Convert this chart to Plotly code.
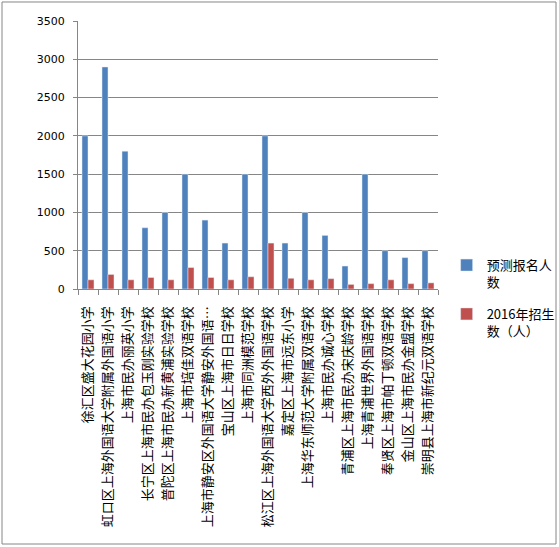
import plotly.graph_objects as go

# school names (x categories)
schools = [
    '徐汇区盛大花园小学',
    '虹口区上海外国语大学附属外国语小学',
    '上海市民办丽英小学',
    '长宁区上海市民办包玉刚实验学校',
    '普陀区上海市民办新黄浦实验学校',
    '上海市培佳双语学校',
    '上海市静安区外国语大学静安外国语…',
    '宝山区上海市日日学校',
    '上海市同洲模范学校',
    '松江区上海外国语大学西外外国语学校',
    '嘉定区上海市远东小学',
    '上海华东师范大学附属双语学校',
    '上海市民办诚心学校',
    '青浦区上海市民办宋庆龄学校',
    '上海青浦世界外国语学校',
    '奉贤区上海市帕丁顿双语学校',
    '金山区上海市民办金盟学校',
    '崇明县上海市新纪元双语学校',
]

# predicted applicants
applicants = [2000, 2900, 1800, 800, 1000, 1500, 900, 600, 1500,
              2000, 600, 1000, 700, 300, 1500, 500, 410, 500]

# 2016 enrolment
enrolled = [120, 190, 120, 150, 120, 280, 150, 120, 160,
            600, 140, 120, 135, 60, 70, 120, 70, 80]

fig = go.Figure()

# blue bars
fig.add_trace(go.Bar(x=schools, y=applicants, name='预测报名人<br>数',
                     marker_color='#4F81BD', legendgroup='a'))
# red bars
fig.add_trace(go.Bar(x=schools, y=enrolled, name='2016年招生<br>数（人）',
                     marker_color='#C0504D', legendgroup='b'))

fig.update_layout(
    width=559, height=547,
    margin=dict(l=78, r=121, t=21, b=258, autoexpand=False),
    paper_bgcolor='white', plot_bgcolor='white',
    barmode='group', bargap=0.4, bargroupgap=0,
    font=dict(family='Noto Sans CJK SC, DejaVu Sans', color='black'),
    legend=dict(x=1.024, y=0.145, xanchor='left', yanchor='top',
                font=dict(size=13), valign='top', tracegroupgap=12,
                itemwidth=30, bgcolor='rgba(0,0,0,0)'),
    showlegend=True,
)

fig.update_xaxes(
    type='category', tickangle=-90, automargin=False,
    tickfont=dict(size=13, family='Noto Sans CJK SC'),
    showline=True, linecolor='#868686', linewidth=1,
    ticks='outside', tickson='boundaries', ticklen=5, tickcolor='#868686',
    showgrid=False, ticklabelstandoff=11,
)

fig.update_yaxes(
    range=[0, 3500], dtick=500, automargin=False,
    tickfont=dict(size=11, family='DejaVu Sans'),
    showline=True, linecolor='#868686', linewidth=1,
    ticks='outside', ticklen=4, tickcolor='#868686',
    showgrid=True, gridcolor='#868686', gridwidth=1,
    zeroline=False, ticklabelstandoff=6,
)

# outer chart border
fig.add_shape(type='rect', xref='paper', yref='paper',
              x0=-0.2111, x1=1.3278, y0=-0.9515, y1=1.0709,
              line=dict(color='#868686', width=1))

# drop the default page margin so the figure sits at the window corner
fig.write_html('out.html', config={'displayModeBar': False},
               post_script="document.body.style.margin='0';")
